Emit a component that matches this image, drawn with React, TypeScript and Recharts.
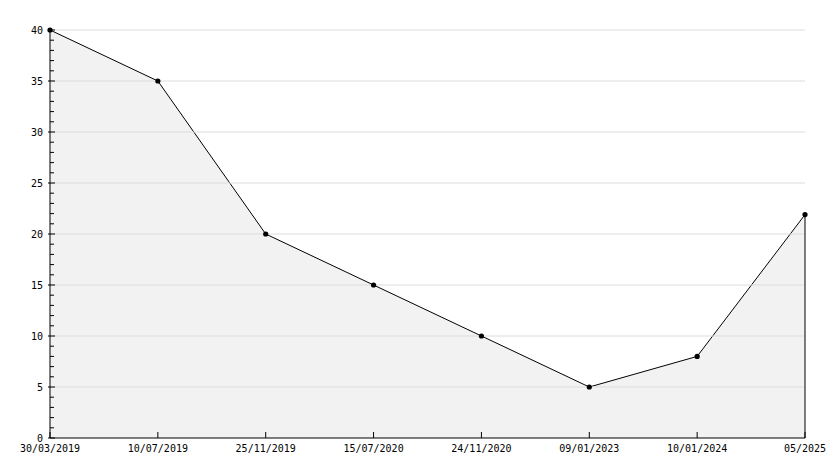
import { ComposedChart, Area, XAxis, YAxis, ReferenceLine } from 'recharts';

const DATES = ['30/03/2019', '10/07/2019', '25/11/2019', '15/07/2020', '24/11/2020', '09/01/2023', '10/01/2024', '05/2025'];
const VALUES = [40, 35, 20, 15, 10, 5, 8, 21.9];
const Y_TICKS = Array.from({ length: 41 }, (_, i) => i);
const MAJOR = [5, 10, 15, 20, 25, 30, 35, 40];

const data = DATES.map((d, i) => ({ date: d, value: VALUES[i] }));
const FONT = '"DejaVu Sans Mono", monospace';

function YTick({ x, y, payload }: any) {
  const v = payload.value;
  const major = v % 5 === 0;
  return (
    <g>
      <line x1={major ? x - 2 : x} x2={x + (major ? 5 : 4)} y1={y} y2={y} stroke="#000" />
      {major && (
        <text x={x - 7} y={y} dy={4} textAnchor="end" fontSize={10} fontFamily={FONT} fill="#000">
          {v}
        </text>
      )}
    </g>
  );
}

function XTick({ x, y, payload }: any) {
  return (
    <g>
      <line x1={x} x2={x} y1={y} y2={y - 6} stroke="#000" />
      <text x={x} y={y + 14} textAnchor="middle" fontSize={10} fontFamily={FONT} fill="#000">
        {payload.value}
      </text>
    </g>
  );
}

function Dot({ cx, cy }: any) {
  return <circle cx={cx} cy={cy} r={2.6} fill="#000" />;
}

export default function App() {
  const last = DATES[DATES.length - 1];
  return (
    <div style={{ position: 'absolute', left: 0, top: 0, background: '#fff' }}>
      <ComposedChart width={834} height={468} data={data} margin={{ top: 30, right: 29, left: 0, bottom: 0 }}>
        {MAJOR.map(v => (
          <ReferenceLine key={v} y={v} stroke="#dcdcdc" />
        ))}
        <Area
          type="linear"
          dataKey="value"
          stroke="#000"
          strokeWidth={1}
          fill="#f2f2f2"
          fillOpacity={1}
          dot={<Dot />}
          activeDot={false}
          isAnimationActive={false}
        />
        <ReferenceLine segment={[{ x: last, y: 0 }, { x: last, y: VALUES[VALUES.length - 1] }]} stroke="#000" />
        <XAxis
          dataKey="date"
          height={30}
          tick={<XTick />}
          tickLine={false}
          tickSize={0}
          tickMargin={0}
          interval={0}
          axisLine={{ stroke: '#000' }}
        />
        <YAxis
          width={50}
          domain={[0, 40]}
          ticks={Y_TICKS}
          interval={0}
          tick={<YTick />}
          tickLine={false}
          tickSize={0}
          tickMargin={0}
          axisLine={{ stroke: '#000' }}
        />
      </ComposedChart>
    </div>
  );
}
